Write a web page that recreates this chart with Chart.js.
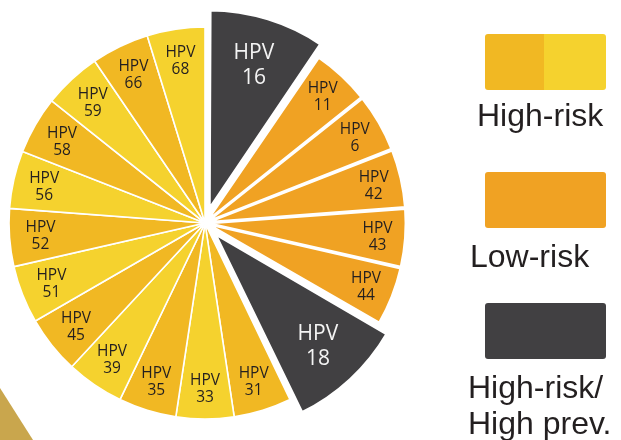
<!DOCTYPE html>
<html>
<head>
<meta charset="utf-8">
<script src="https://cdn.jsdelivr.net/npm/chart.js@4.4.1/dist/chart.umd.min.js"></script>
<style>
  html, body { margin: 0; padding: 0; background: #fff; }
  #wrap { position: relative; width: 621px; height: 440px; overflow: hidden; }
  #chartBox { position: absolute; left: 0; top: 0; width: 621px; height: 440px; }
  .corner { position: absolute; left: 0; top: 0; width: 621px; height: 440px;
    background: #c9a64d; clip-path: polygon(0 388px, 33px 440px, 0 440px); }
  .swatch { position: absolute; left: 485px; width: 121px; height: 56px; border-radius: 3px; overflow: hidden; }
  .swatch span { position: absolute; top: 0; height: 100%; }
  .legText { position: absolute; font-family: "Liberation Sans", Arial, sans-serif;
    font-size: 32px; line-height: 36px; color: #231f20; white-space: nowrap; }
</style>
</head>
<body>
<div id="wrap">
  <div class="corner"></div>
  <div id="chartBox"><canvas id="hpvChart"></canvas></div>

  <div class="swatch" style="top:34px;">
    <span style="left:0;width:59px;background:#f1b823;"></span>
    <span style="left:59px;width:62px;background:#f5d22e;"></span>
  </div>
  <div class="legText" style="left:477px;top:97px;">High-risk</div>

  <div class="swatch" style="top:172px;background:#f0a223;"></div>
  <div class="legText" style="left:470px;top:238px;">Low-risk</div>

  <div class="swatch" style="top:303px;background:#414042;"></div>
  <div class="legText" style="left:468px;top:369px;">High-risk/<br>High prev.</div>
</div>

<script>
// HPV types, clockwise from 12 o'clock
const hpvTypes = ["16", "11", "6", "42", "43", "44", "18", "31", "33", "35",
                  "39", "45", "51", "52", "56", "58", "59", "66", "68"];
// slice sizes (HPV 16 and 18 take a double share)
const sliceWeights = [2, 1, 1, 1, 1, 1, 2, 1, 1, 1, 1, 1, 1, 1, 1, 1, 1, 1, 1];
// risk group: prev = high-risk / high prevalence, low = low-risk, high = high-risk
const riskGroups = ["prev", "low", "low", "low", "low", "low", "prev", "high", "high", "high",
                    "high", "high", "high", "high", "high", "high", "high", "high", "high"];

const highShades = ["#f1b823", "#f5d22e"];
let highCount = 0;
const sliceColors = riskGroups.map((g) => {
    if (g === "prev") return "#414042";
    if (g === "low") return "#f0a223";
    return highShades[highCount++ % 2];
});
const sliceBorders = riskGroups.map((g) => (g === "prev" ? 4 : g === "low" ? 2.5 : 1.6));

// how far each slice is pulled out, in pixels
const pullOut = riskGroups.map((g) => (g === "prev" ? 22 : g === "low" ? 8 : 0));
// Chart.js scales the offset by (1 - sin(angle)), so undo that here
const totalWeight = sliceWeights.reduce((a, b) => a + b, 0);
const sliceOffsets = pullOut.map((p, i) => {
    const angle = (sliceWeights[i] / totalWeight) * Math.PI * 2;
    return p / (1 - Math.sin(Math.min(Math.PI, angle)));
});

// draws "HPV" / number inside each slice
const sliceLabels = {
    id: "sliceLabels",
    afterDatasetsDraw(chart) {
        const ctx = chart.ctx;
        const meta = chart.getDatasetMeta(0);
        ctx.save();
        ctx.textAlign = "center";
        ctx.textBaseline = "alphabetic";
        meta.data.forEach((arc, i) => {
            const mid = (arc.startAngle + arc.endAngle) / 2;
            const off = pullOut[i];
            const big = riskGroups[i] === "prev";
            const r = big ? 144 : (riskGroups[i] === "low" ? 165 : 165);
            const x = arc.x + Math.cos(mid) * (off + r);
            const y = arc.y + Math.sin(mid) * (off + r);
            if (big) {
                ctx.font = '21px "Open Sans", sans-serif';
                ctx.fillStyle = "#f4f4f4";
                ctx.fillText("HPV", x, y - 5);
                ctx.fillText(hpvTypes[i], x, y + 20);
            } else {
                ctx.font = '15.5px "Open Sans", sans-serif';
                ctx.fillStyle = "#231f20";
                ctx.fillText("HPV", x, y - 3);
                ctx.fillText(hpvTypes[i], x, y + 14);
            }
        });
        ctx.restore();
    }
};

const ctx = document.getElementById("hpvChart").getContext("2d");
new Chart(ctx, {
    type: "pie",
    data: {
        labels: hpvTypes.map((t) => "HPV " + t),
        datasets: [
            {
                data: sliceWeights,
                backgroundColor: sliceColors,
                borderColor: "#ffffff",
                borderWidth: sliceBorders,
                offset: sliceOffsets,
                hoverOffset: 0,
            },
        ],
    },
    options: {
        responsive: true,
        maintainAspectRatio: false,
        animation: false,
        events: [],
        radius: 196,
        layout: { padding: { left: 0, right: 211, top: 6, bottom: 0 } },
        plugins: {
            legend: { display: false },
            tooltip: { enabled: false },
        },
    },
    plugins: [sliceLabels],
});
</script>
</body>
</html>
